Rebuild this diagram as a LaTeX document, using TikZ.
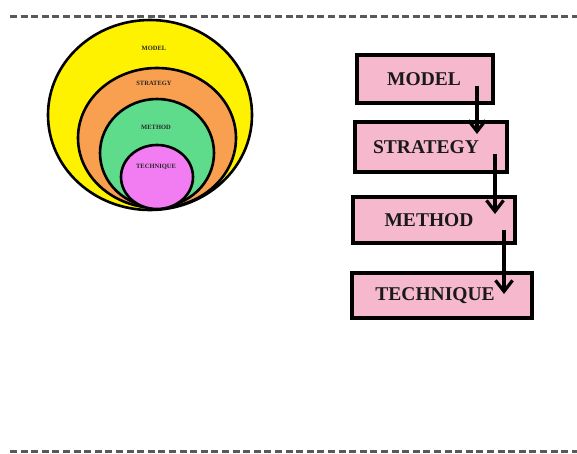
\documentclass[tikz,border=0pt]{standalone}
\usepackage{fontspec}
\setmainfont{Liberation Serif}
\usetikzlibrary{arrows.meta}
\definecolor{cyel}{HTML}{FFF200}
\definecolor{cora}{HTML}{F8A050}
\definecolor{cgrn}{HTML}{5EDC8C}
\definecolor{cpnk}{HTML}{F27CF2}
\definecolor{boxpink}{HTML}{F6B8CC}
\tikzset{
  ring/.style={draw=black, line width=2.6pt},
  ringlabel/.style={font=\fontsize{6.5}{6.5}\selectfont\bfseries, text=black!85},
  stepbox/.style={draw=black, line width=3.2pt, fill=boxpink, inner sep=0pt,
    font=\fontsize{19.5}{19.5}\selectfont\bfseries, text=black!90},
  flow/.style={line width=3.2pt, -{Straight Barb[length=11pt,width=17pt]}},
  sep/.style={draw=black!65, line width=3pt, dash pattern=on 7pt off 3.6pt}
}
\newcommand{\myleftshift}[1]{\hspace*{-#1pt}}
\begin{document}
\begin{tikzpicture}[x=1pt,y=-1pt]
\useasboundingbox (0,0) rectangle (577,453);
\fill[white] (0,0) rectangle (577,453);
% separators
\coordinate (t1) at (10,16);
\coordinate (t2) at (577,16);
\coordinate (b1) at (10,451);
\coordinate (b2) at (577,451);
\draw[sep] (t1) -- (t2);
\draw[sep] (b1) -- (b2);
% nested ellipses
\draw[ring, fill=cyel] (150,115) ellipse [x radius=102, y radius=95];
\draw[ring, fill=cora] (157,138) ellipse [x radius=79, y radius=70];
\draw[ring, fill=cgrn] (157,153) ellipse [x radius=57, y radius=54];
\draw[ring, fill=cpnk] (157,177) ellipse [x radius=36, y radius=32];
\node[ringlabel] (l1) at (154,48) {MODEL};
\node[ringlabel] (l2) at (154,83) {STRATEGY};
\node[ringlabel] (l3) at (156,127) {METHOD};
\node[ringlabel] (l4) at (156,167) {TECHNIQUE};
% boxes
\node[stepbox, minimum width=136pt, minimum height=48pt] (model) at (425,79) {\myleftshift{2}MODEL};
\node[stepbox, minimum width=152pt, minimum height=50pt] (strategy) at (431,147) {\myleftshift{10}STRATEGY};
\node[stepbox, minimum width=162pt, minimum height=46pt] (method) at (434,220) {\myleftshift{10}METHOD};
\node[stepbox, minimum width=180pt, minimum height=45pt] (technique) at (442,295.5) {\myleftshift{14}TECHNIQUE};
% arrows
\coordinate (a1s) at (477,86);
\coordinate (a1e) at (477,134);
\coordinate (a2s) at (495,154);
\coordinate (a2e) at (495,214);
\coordinate (a3s) at (504,230);
\coordinate (a3e) at (504,294);
\draw[flow] (a1s) -- (a1e);
\draw[flow] (a2s) -- (a2e);
\draw[flow] (a3s) -- (a3e);
\end{tikzpicture}
\end{document}
